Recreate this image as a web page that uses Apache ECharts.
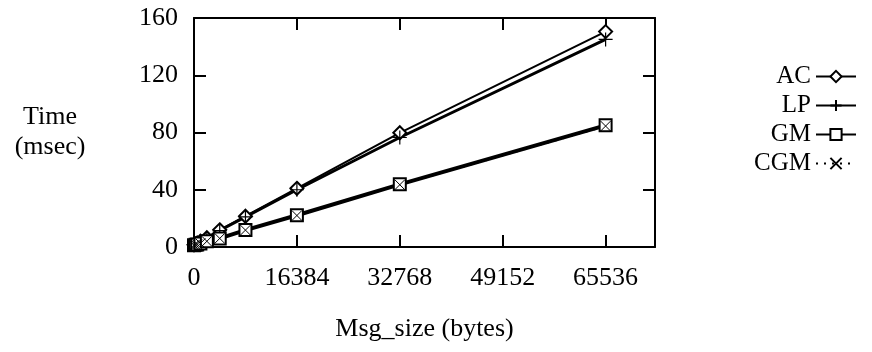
<!DOCTYPE html>
<html>
<head>
<meta charset="utf-8">
<script src="https://cdn.jsdelivr.net/npm/echarts@6/dist/echarts.min.js"></script>
<style>html,body{margin:0;padding:0;background:#fff}#c{width:872px;height:352px}</style>
</head>
<body>
<div id="c"></div>
<script>
var msgSizes = [0, 256, 512, 1024, 2048, 4096, 8192, 16384, 32768, 65536];
var acTimes  = [1.5, 2.2, 2.8, 4.0, 6.5, 12.0, 21.5, 41.0, 79.8, 150.5];
var lpTimes  = [1.5, 2.0, 2.6, 3.8, 6.2, 11.5, 21.0, 40.0, 76.5, 145.0];
var gmTimes  = [1.2, 1.5, 1.8, 2.5, 4.0, 6.0, 11.8, 22.2, 43.8, 85.0];
var cgmTimes = [1.2, 1.5, 1.8, 2.5, 4.0, 6.0, 11.8, 22.0, 43.5, 84.5];
var xTicks = [0, 16384, 32768, 49152, 65536];
var yTicks = [0, 40, 80, 120, 160];
var seriesNames = ['AC', 'LP', 'GM', 'CGM'];

function pairs(ys) { return msgSizes.map(function (x, i) { return [x, ys[i]]; }); }

var FONT = 'Liberation Serif';
var plusPath = 'path://M0,6L12,6M6,0L6,12';
var xPath = 'path://M0,0L10,10M10,0L0,10';

var chart = echarts.init(document.getElementById('c'));
var axisLineStyle = { color: '#000', width: 2 };
var tickStyle = { color: '#000', width: 2 };
chart.setOption({
  animation: false,
  backgroundColor: '#fff',
  textStyle: { fontFamily: FONT, color: '#000' },
  grid: { left: 194, right: 217, top: 18, bottom: 105 },
  legend: {
    orient: 'vertical', right: 10, top: 59, align: 'right',
    itemWidth: 40, itemHeight: 14, itemGap: 4,
    textStyle: { fontFamily: FONT, fontSize: 25, color: '#000' },
    data: seriesNames
  },
  xAxis: [{
    type: 'value', min: 0, max: 73400, interval: 16384,
    name: 'Msg_size (bytes)', nameLocation: 'middle', nameGap: 69,
    nameTextStyle: { fontFamily: FONT, fontSize: 26, color: '#000' },
    axisLine: { onZero: false, lineStyle: axisLineStyle },
    axisTick: { inside: true, length: 12, lineStyle: tickStyle },
    axisLabel: { margin: 18, fontFamily: FONT, fontSize: 26, color: '#000', showMaxLabel: false,
      formatter: function (v) { return xTicks.indexOf(v) >= 0 ? String(v) : ''; } },
    splitLine: { show: false }
  }, {
    type: 'value', position: 'top', min: 0, max: 73400, interval: 16384,
    axisLine: { onZero: false, lineStyle: axisLineStyle },
    axisTick: { inside: true, length: 12, lineStyle: tickStyle },
    axisLabel: { show: false }, splitLine: { show: false }
  }],
  yAxis: [{
    type: 'value', min: 0, max: 160, interval: 40,
    name: 'Time\n(msec)', nameLocation: 'middle', nameRotate: 0, nameGap: 144,
    nameTextStyle: { fontFamily: FONT, fontSize: 26, color: '#000', align: 'center', verticalAlign: 'middle', lineHeight: 30 },
    axisLine: { onZero: false, lineStyle: axisLineStyle },
    axisTick: { inside: true, length: 12, lineStyle: tickStyle },
    axisLabel: { margin: 16, fontFamily: FONT, fontSize: 26, color: '#000',
      formatter: function (v) { return yTicks.indexOf(v) >= 0 ? String(v) : ''; } },
    splitLine: { show: false }
  }, {
    type: 'value', position: 'right', min: 0, max: 160, interval: 40,
    axisLine: { onZero: false, lineStyle: axisLineStyle },
    axisTick: { inside: true, length: 12, lineStyle: tickStyle },
    axisLabel: { show: false }, splitLine: { show: false }
  }],
  series: [{
    name: 'AC', type: 'line', data: pairs(acTimes),
    symbol: 'emptyDiamond', symbolSize: 13, showAllSymbol: true,
    lineStyle: { color: '#000', width: 2 },
    itemStyle: { color: '#000', borderColor: '#000', borderWidth: 1 }
  }, {
    name: 'LP', type: 'line', data: pairs(lpTimes),
    symbol: plusPath, symbolSize: 14, showAllSymbol: true,
    lineStyle: { color: '#000', width: 3 },
    itemStyle: { color: 'rgba(0,0,0,0)', borderColor: '#000', borderWidth: 1.2 }
  }, {
    name: 'GM', type: 'line', data: pairs(gmTimes),
    symbol: 'emptyRect', symbolSize: 12, showAllSymbol: true,
    lineStyle: { color: '#000', width: 4 },
    itemStyle: { color: '#000', borderColor: '#000', borderWidth: 1 }
  }, {
    name: 'CGM', type: 'line', data: pairs(cgmTimes),
    symbol: xPath, symbolSize: 10, showAllSymbol: true,
    lineStyle: { color: '#000', width: 2, type: [2, 6] },
    itemStyle: { color: 'rgba(0,0,0,0)', borderColor: '#000', borderWidth: 1 }
  }]
});
</script>
</body>
</html>
